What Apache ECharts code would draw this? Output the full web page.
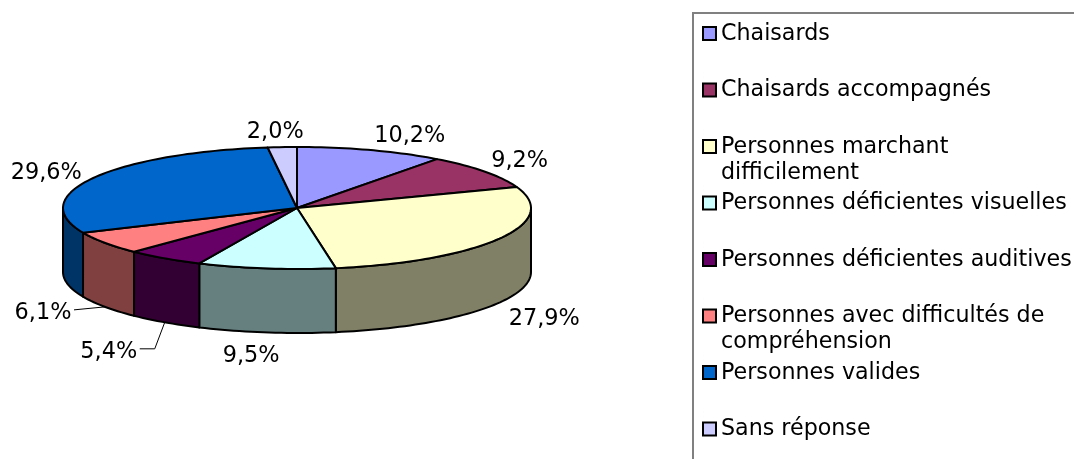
<!DOCTYPE html>
<html>
<head>
<meta charset="utf-8">
<style>
  html, body { margin: 0; padding: 0; background: #fff; }
  #chart { width: 1074px; height: 459px; }
</style>
<script src="https://cdn.jsdelivr.net/npm/echarts@6/dist/echarts.min.js"></script>
</head>
<body>
<div id="chart"></div>
<script>
const categories = [
  'Chaisards',
  'Chaisards accompagnés',
  'Personnes marchant difficilement',
  'Personnes déficientes visuelles',
  'Personnes déficientes auditives',
  'Personnes avec difficultés de compréhension',
  'Personnes valides',
  'Sans réponse',
]
const values = [10.2, 9.2, 27.9, 9.5, 5.4, 6.1, 29.6, 2.0]
const topColors = ['#9999FF', '#993366', '#FFFFCC', '#CCFFFF', '#660066', '#FF8080', '#0066CC', '#CCCCFF']
const sideColors = ['#4C4C80', '#4C1933', '#808066', '#668080', '#330033', '#804040', '#003366', '#666680']

// legend line breaks, the box is too narrow for these two
const legendLines = {
  'Personnes marchant difficilement': 'Personnes marchant\ndifficilement',
  'Personnes avec difficultés de compréhension': 'Personnes avec difficultés de\ncompréhension',
}

// pie geometry: squashed disc seen from above
const cx = 297
const cy = 208
const rx = 234
const ry = 61
const depth = 64
const fontFamily = '"DejaVu Sans", sans-serif'

// label offset from the rim point at the middle of each slice
const labelNudges = [[39, -14], [35, -10], [45, 17], [-15, 24], [-56, 30], [-62, 6], [-47, -5], [-7, -15]]
// leader line bends, relative to the same rim point
const leaderBends = { 4: [[-10, 26.5], [-25, 26.5]], 5: [[-31, 3]] }

const total = values.reduce((a, b) => a + b, 0)
const starts = values.map((_, i) => values.slice(0, i).reduce((a, b) => a + b, 0))

const toAngle = (v) => (v / total) * 360
const rimPoint = (deg, drop = 0) => {
  const rad = (deg * Math.PI) / 180
  return [cx + rx * Math.sin(rad), cy - ry * Math.cos(rad) + drop]
}
const arcPoints = (from, to, drop = 0) => {
  const steps = Math.max(2, Math.ceil((to - from) / 1.5))
  return Array.from({ length: steps + 1 }, (_, k) => rimPoint(from + ((to - from) * k) / steps, drop))
}
const percentText = (v) => v.toFixed(1).replace('.', ',') + '%'

const outline = { stroke: '#000', lineWidth: 2, lineJoin: 'round' }

const renderSlice = (i) => (params, api) => {
  const value = api.value(0)
  const from = toAngle(starts[i])
  const to = toAngle(starts[i] + value)
  const mid = (from + to) / 2
  const children = []

  // outer wall, only the front half of the disc shows
  const sideFrom = Math.max(from, 90)
  const sideTo = Math.min(to, 270)
  if (sideTo > sideFrom) {
    children.push({
      type: 'polygon',
      shape: { points: [...arcPoints(sideFrom, sideTo), ...arcPoints(sideFrom, sideTo, depth).reverse()] },
      style: { fill: sideColors[i], ...outline },
    })
  }

  children.push({
    type: 'polygon',
    shape: { points: [[cx, cy], ...arcPoints(from, to)] },
    style: { fill: topColors[i], ...outline },
  })

  const isFront = mid > 90 && mid < 270
  const anchor = rimPoint(mid, isFront ? depth : 0)
  const bends = leaderBends[i]
  if (bends) {
    children.push({
      type: 'polyline',
      shape: { points: [anchor, ...bends.map((b) => [anchor[0] + b[0], anchor[1] + b[1]])] },
      style: { fill: 'none', stroke: '#000', lineWidth: 1 },
    })
  }
  children.push({
    type: 'text',
    x: anchor[0] + labelNudges[i][0],
    y: anchor[1] + labelNudges[i][1],
    style: {
      text: percentText(value),
      fill: '#000',
      font: `22.4px ${fontFamily}`,
      align: 'center',
      verticalAlign: 'middle',
    },
  })
  return { type: 'group', children }
}

const chart = echarts.init(document.getElementById('chart'))
chart.setOption({
  animation: false,
  backgroundColor: '#fff',
  legend: {
    orient: 'vertical',
    left: 693,
    top: 13,
    height: 600,
    padding: [7, 30, 30, 9],
    itemGap: 2.5,
    itemWidth: 13,
    itemHeight: 52,
    // square sits on the first text line, the two stubs only stretch the bbox
    icon: 'path://M0 6H13V19H0Z M0 0H0.01 M0 52H0.01',
    itemStyle: { borderColor: '#000', borderWidth: 2 },
    selectedMode: false,
    borderColor: '#808080',
    borderWidth: 2,
    textStyle: { color: '#000', fontFamily, fontSize: 22.2, lineHeight: 26 },
    data: categories,
    formatter: (name) => {
      const text = legendLines[name] || name
      return text.includes('\n') ? text : text + '\n '
    },
  },
  series: categories.map((name, i) => ({
    type: 'custom',
    name,
    coordinateSystem: 'none',
    silent: true,
    itemStyle: { color: topColors[i] },
    data: [[values[i]]],
    renderItem: renderSlice(i),
  })),
})
</script>
</body>
</html>
